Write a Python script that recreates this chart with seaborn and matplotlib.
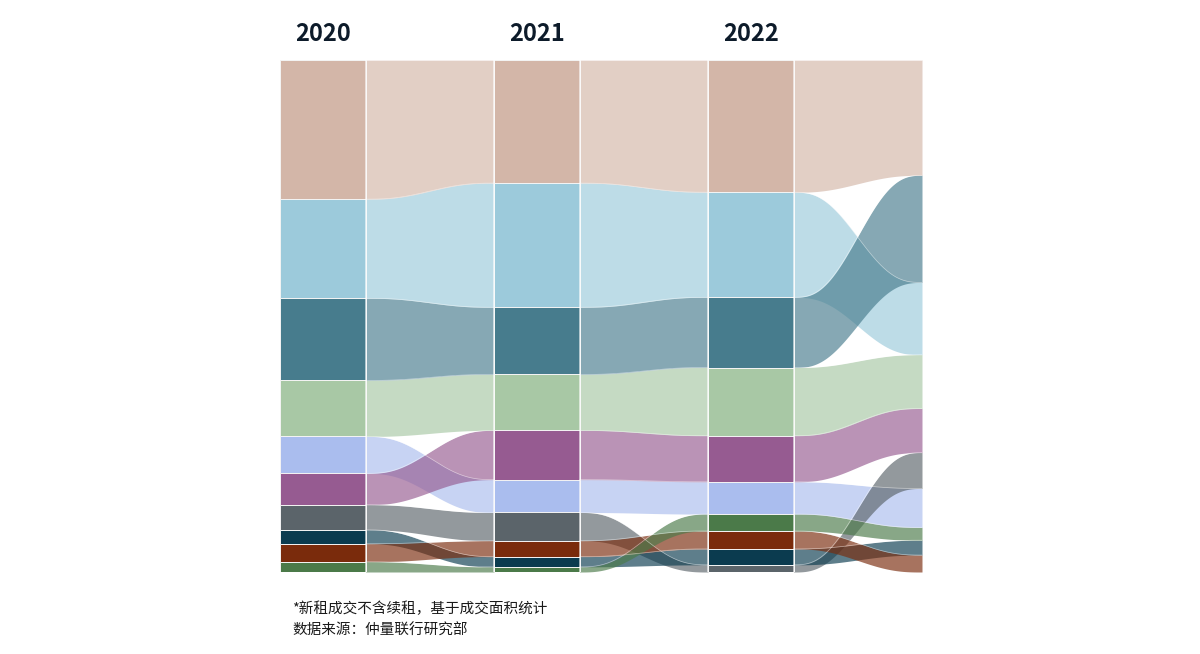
import numpy as np
import pandas as pd
import matplotlib
matplotlib.use("Agg")
import matplotlib.pyplot as plt
from matplotlib.patches import Rectangle
import seaborn as sns

sns.set_theme(style="white")
plt.rcParams['font.family'] = ['Noto Sans CJK SC', 'DejaVu Sans']

# ---- data (share of new leasing area, %) ----
years = ['2020', '2021', '2022', '2023']
cats = ['c1', 'c2', 'c3', 'c4', 'c5', 'c6', 'c7', 'c8', 'c9', 'c10']

share_2020 = [27.1, 19.3, 16.0, 10.9, 7.2, 6.1, 4.9, 2.7, 3.5, 2.0]
share_2021 = [24.0, 24.2, 13.1, 10.9, 6.4, 9.6, 5.5, 2.0, 3.1, 1.0]
share_2022 = [25.8, 20.5, 13.7, 13.3, 6.3, 9.0, 1.4, 3.1, 3.5, 3.3]
share_2023 = [22.5, 14.1, 20.9, 10.5, 7.6, 8.6, 7.0, 2.9, 3.3, 2.5]

# stacking order, top to bottom
order_2020 = ['c1', 'c2', 'c3', 'c4', 'c5', 'c6', 'c7', 'c8', 'c9', 'c10']
order_2021 = ['c1', 'c2', 'c3', 'c4', 'c6', 'c5', 'c7', 'c9', 'c8', 'c10']
order_2022 = ['c1', 'c2', 'c3', 'c4', 'c6', 'c5', 'c10', 'c9', 'c8', 'c7']
order_2023 = ['c1', 'c3', 'c2', 'c4', 'c6', 'c7', 'c5', 'c10', 'c8', 'c9']

colors = ['#d3b6a8', '#9ccadb', '#477c8d', '#a8c8a5', '#aabdee',
          '#965b91', '#5b646a', '#0b3b4f', '#7a2b0c', '#4b7a49']

notes = ['*新租成交不含续租，基于成交面积统计', '数据来源：仲量联行研究部']

df = pd.DataFrame({'2020': share_2020, '2021': share_2021,
                   '2022': share_2022, '2023': share_2023}, index=cats)
orders = [order_2020, order_2021, order_2022, order_2023]
col = dict(zip(cats, colors))

# stack every year to 0..100 (top = 0)
tops, bots = {}, {}
for y, order in zip(years, orders):
    v = df[y] / df[y].sum() * 100
    acc = 0
    for c in order:
        tops[(y, c)] = acc
        acc += v[c]
        bots[(y, c)] = acc

block_x = [0, 2.5, 5, 7.5]
block_w = [1, 1, 1, 0]


def smooth(t):
    return t * t * t * (t * (t * 6 - 15) + 10)


fig = plt.figure(figsize=(12, 6.54), dpi=100)
ax = fig.add_axes([280 / 1200, 82 / 654, 642 / 1200, 512 / 654])

# flows
for i in range(3):
    y0, y1 = years[i], years[i + 1]
    x0 = block_x[i] + block_w[i]
    x1 = block_x[i + 1]
    xs = np.linspace(x0, x1, 200)
    s = smooth((xs - x0) / (x1 - x0))
    for c in cats:
        t = tops[(y0, c)] + (tops[(y1, c)] - tops[(y0, c)]) * s
        b = bots[(y0, c)] + (bots[(y1, c)] - bots[(y0, c)]) * s
        ax.fill_between(xs, t, b, color=col[c], alpha=0.66, lw=0)
        ax.plot(xs, t, color='white', lw=0.5, alpha=0.5)

# year blocks
for i in range(3):
    y = years[i]
    for c in cats:
        ax.add_patch(Rectangle((block_x[i], tops[(y, c)]), 1,
                               bots[(y, c)] - tops[(y, c)],
                               facecolor=col[c], edgecolor='#f4f4f4', lw=0.7))
    ax.text(block_x[i] + 0.5, 1.05, y, transform=ax.get_xaxis_transform(),
            ha='center', va='center', fontsize=17, fontweight='bold',
            color='#0d1b2a')

for x in [1, 2.5, 3.5, 5, 6]:
    ax.axvline(x, color='white', lw=1.2, alpha=0.7)

ax.set_xlim(0, 7.5)
ax.set_ylim(100, 0)
ax.axis('off')

fig.text(292 / 1200, 1 - 609 / 654, notes[0], fontsize=10.5, color='#1a1a1a',
         va='center', ha='left')
fig.text(292 / 1200, 1 - 631 / 654, notes[1], fontsize=10.5, color='#1a1a1a',
         va='center', ha='left')

fig.savefig('out.png', dpi=100)
